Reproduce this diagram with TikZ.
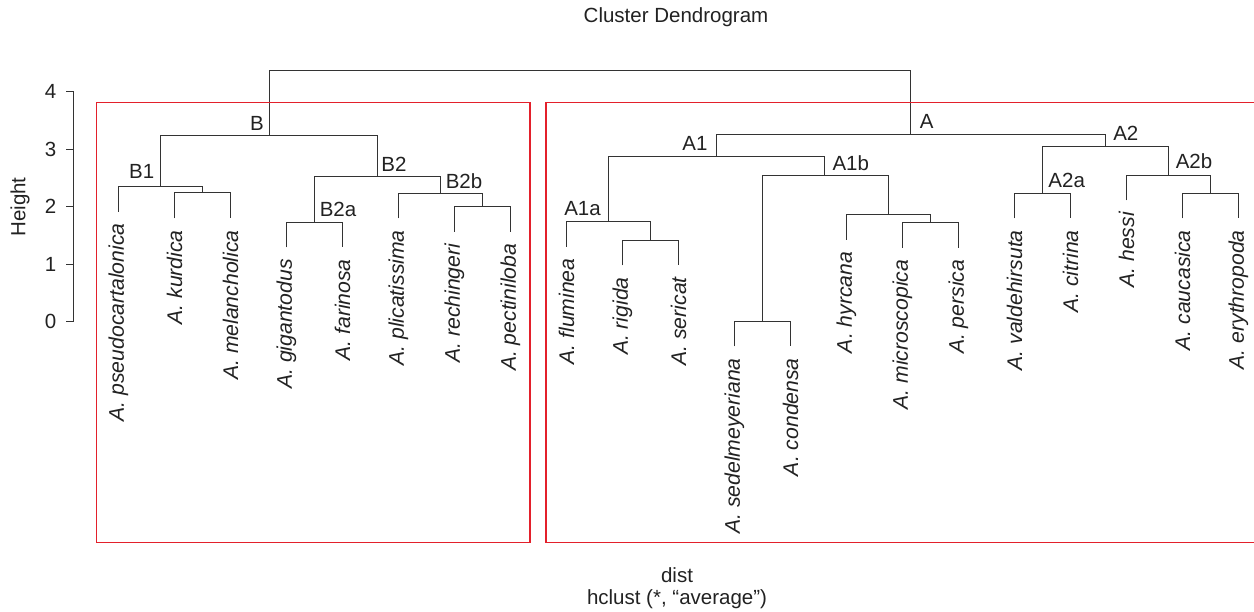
\documentclass[tikz,border=0pt]{standalone}
\usepackage{fontspec}
\setmainfont{Liberation Sans}
\definecolor{ink}{HTML}{222222}
\definecolor{tree}{HTML}{333333}
\definecolor{boxred}{HTML}{E3202B}
\begin{document}
\begin{tikzpicture}[x=1pt,y=-1pt,
  treeline/.style={draw=tree,line width=1.2pt},
  redbox/.style={draw=boxred,line width=1.4pt},
  leaflab/.style={rotate=90,anchor=east,inner sep=0pt,text=ink,font=\fontsize{21.2}{25}\selectfont\itshape},
  clab/.style={inner sep=0pt,text=ink,font=\fontsize{20.5}{24}\selectfont},
  txt/.style={inner sep=0pt,text=ink,font=\fontsize{20.5}{24}\selectfont}]
\useasboundingbox (0,0) rectangle (1254,612);
% leaves
\coordinate (l1) at (118.5,211.7);
\coordinate (l2) at (174.5,218.5);
\coordinate (l3) at (230.5,218.5);
\coordinate (l4) at (286.5,247.5);
\coordinate (l5) at (342.5,247.5);
\coordinate (l6) at (398.5,218.5);
\coordinate (l7) at (454.5,232);
\coordinate (l8) at (510.5,232);
\coordinate (l9) at (566.5,246.7);
\coordinate (l10) at (622.5,265.5);
\coordinate (l11) at (678.5,265.5);
\coordinate (l12) at (734.5,346.5);
\coordinate (l13) at (790.5,346.5);
\coordinate (l14) at (846.5,240);
\coordinate (l15) at (902.5,248);
\coordinate (l16) at (958.5,248);
\coordinate (l17) at (1014.5,218.5);
\coordinate (l18) at (1070.5,218.5);
\coordinate (l19) at (1126.5,200.5);
\coordinate (l20) at (1182.5,218.5);
\coordinate (l21) at (1238.5,218.5);
% merges
\coordinate (mkm) at (202.5,192.5);
\coordinate (mB1) at (160.5,186.5);
\coordinate (mB2a) at (314.5,222.5);
\coordinate (mrp) at (482.5,206.5);
\coordinate (mB2b) at (440.5,193.5);
\coordinate (mB2) at (377.5,176.5);
\coordinate (mB) at (269.5,135.5);
\coordinate (mrs) at (650.5,240.5);
\coordinate (mA1a) at (608.5,221.5);
\coordinate (msc) at (762.5,321.5);
\coordinate (mmp) at (930.5,222.5);
\coordinate (mhy) at (888.5,214.5);
\coordinate (mA1b) at (824.5,175.5);
\coordinate (mA1) at (716.5,156.5);
\coordinate (mA2a) at (1042.5,193.5);
\coordinate (mce) at (1210.5,193.5);
\coordinate (mA2b) at (1168.5,175.5);
\coordinate (mA2) at (1105.5,146.5);
\coordinate (mA) at (910.5,134.5);
\coordinate (mroot) at (590.5,70.5);
% tree
\draw[treeline] (l2) |- (mkm) -| (l3);
\draw[treeline] (l1) |- (mB1) -| (mkm);
\draw[treeline] (l4) |- (mB2a) -| (l5);
\draw[treeline] (l7) |- (mrp) -| (l8);
\draw[treeline] (l6) |- (mB2b) -| (mrp);
\draw[treeline] (mB2a) |- (mB2) -| (mB2b);
\draw[treeline] (mB1) |- (mB) -| (mB2);
\draw[treeline] (l10) |- (mrs) -| (l11);
\draw[treeline] (l9) |- (mA1a) -| (mrs);
\draw[treeline] (l12) |- (msc) -| (l13);
\draw[treeline] (l15) |- (mmp) -| (l16);
\draw[treeline] (l14) |- (mhy) -| (mmp);
\draw[treeline] (msc) |- (mA1b) -| (mhy);
\draw[treeline] (mA1a) |- (mA1) -| (mA1b);
\draw[treeline] (l17) |- (mA2a) -| (l18);
\draw[treeline] (l20) |- (mce) -| (l21);
\draw[treeline] (l19) |- (mA2b) -| (mce);
\draw[treeline] (mA2a) |- (mA2) -| (mA2b);
\draw[treeline] (mA1) |- (mA) -| (mA2);
\draw[treeline] (mB) |- (mroot) -| (mA);
% leaf labels
\node[leaflab] (t1) at ([yshift=-11.5]l1) {A. pseudocartalonica};
\node[leaflab] (t2) at ([yshift=-11.5]l2) {A. kurdica};
\node[leaflab] (t3) at ([yshift=-11.5]l3) {A. melancholica};
\node[leaflab] (t4) at ([yshift=-11.5]l4) {A. gigantodus};
\node[leaflab] (t5) at ([yshift=-11.5]l5) {A. farinosa};
\node[leaflab] (t6) at ([yshift=-11.5]l6) {A. plicatissima};
\node[leaflab] (t7) at ([yshift=-11.5]l7) {A. rechingeri};
\node[leaflab] (t8) at ([yshift=-11.5]l8) {A. pectiniloba};
\node[leaflab] (t9) at ([yshift=-11.5]l9) {A. fluminea};
\node[leaflab] (t10) at ([yshift=-11.5]l10) {A. rigida};
\node[leaflab] (t11) at ([yshift=-11.5]l11) {A. sericat};
\node[leaflab] (t12) at ([yshift=-11.5]l12) {A. sedelmeyeriana};
\node[leaflab] (t13) at ([yshift=-11.5]l13) {A. condensa};
\node[leaflab] (t14) at ([yshift=-11.5]l14) {A. hyrcana};
\node[leaflab] (t15) at ([yshift=-11.5]l15) {A. microscopica};
\node[leaflab] (t16) at ([yshift=-11.5]l16) {A. persica};
\node[leaflab] (t17) at ([yshift=-11.5]l17) {A. valdehirsuta};
\node[leaflab] (t18) at ([yshift=-11.5]l18) {A. citrina};
\node[leaflab] (t19) at ([yshift=-11.5]l19) {A. hessi};
\node[leaflab] (t20) at ([yshift=-11.5]l20) {A. caucasica};
\node[leaflab] (t21) at ([yshift=-11.5]l21) {A. erythropoda};
% cluster labels
\node[clab] (cB) at (257,123) {B};
\node[clab] (cB1) at (141.7,171) {B1};
\node[clab] (cB2) at (394,164.3) {B2};
\node[clab] (cB2a) at (338,209.3) {B2a};
\node[clab] (cB2b) at (464,181) {B2b};
\node[clab] (cA) at (926.7,121.7) {A};
\node[clab] (cA1) at (695,143.3) {A1};
\node[clab] (cA1a) at (582.5,208.3) {A1a};
\node[clab] (cA1b) at (850.8,163.3) {A1b};
\node[clab] (cA2) at (1125.8,133.3) {A2};
\node[clab] (cA2a) at (1066.7,180) {A2a};
\node[clab] (cA2b) at (1194,161) {A2b};
% axis
\coordinate (ax0) at (73.5,321.5);
\coordinate (ax4) at (73.5,91.5);
\draw[treeline] (ax0) -- (ax4);
\foreach \h/\yy in {0/321.5,1/264.5,2/206.5,3/149.5,4/91.5}{
  \coordinate (tk\h) at (73.5,\yy);
  \draw[treeline] (tk\h) -- ++(-7.5,0);
  \node[txt,anchor=east] (tl\h) at ([xshift=-17]tk\h) {\h};
}
\node[txt,rotate=90] (ylab) at (20,207) {Height};
% titles
\node[txt] (title) at (676,17) {Cluster Dendrogram};
\node[txt] (xlab1) at (677,575) {dist};
\node[txt] (xlab2) at (677,599) {hclust (*, “average”)};
% red boxes
\draw[redbox] (96.5,102.5) rectangle (530,542.5);
\draw[redbox] (1256,102.5) -- (546,102.5) -- (546,542.5) -- (1256,542.5);
\end{tikzpicture}
\end{document}
